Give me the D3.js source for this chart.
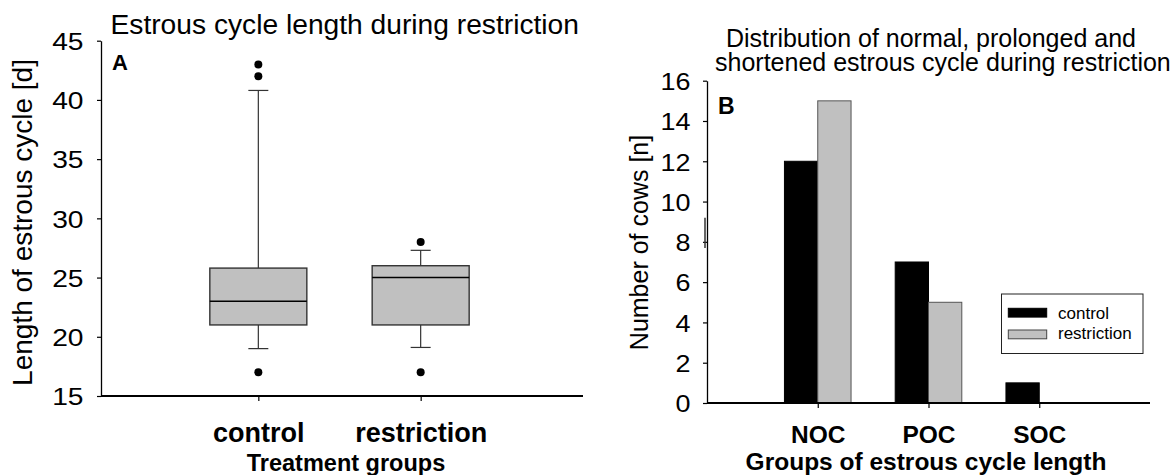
<!DOCTYPE html>
<html>
<head>
<meta charset="utf-8">
<script src="https://cdn.jsdelivr.net/npm/d3@7"></script>
<style>
  html, body { margin: 0; padding: 0; background: #fff; }
  svg { display: block; }
  text { font-family: "Liberation Sans", Arial, sans-serif; fill: #000; }
</style>
</head>
<body>
<svg id="fig" width="1176" height="475"></svg>
<script>
// ---- Panel A: estrous cycle length by treatment group (box plot) ----
const groupsA = ["control", "restriction"];
const whiskerLowA = [19, 19.1];
const q1A = [21, 21];
const medianA = [23, 25];
const q3A = [25.8, 26];
const whiskerHighA = [40.8, 27.3];
const outliersA = [[43, 42, 17], [28, 17]];
const yTicksA = [15, 20, 25, 30, 35, 40, 45];

// ---- Panel B: number of cows per cycle-length group ----
const groupsB = ["NOC", "POC", "SOC"];
const seriesB = ["control", "restriction"];
const controlB = [12, 7, 1];
const restrictionB = [15, 5, 0];
const yTicksB = [0, 2, 4, 6, 8, 10, 12, 14, 16];

const GRAY = "#c0c0c0";
const svg = d3.select("#fig");

// widen glyphs horizontally by factor k
function stretch(sel, k) {
  sel.each(function () {
    const w = this.getComputedTextLength();
    this.setAttribute("textLength", w * k);
    this.setAttribute("lengthAdjust", "spacingAndGlyphs");
  });
}

/* ================= Panel A ================= */
const A = { left: 101, right: 583, top: 40.7, bottom: 396 };
const yA = d3.scaleLinear().domain([15, 45]).range([A.bottom, A.top]);
const xA = d3.scalePoint().domain(groupsA).range([96, 583]).padding(1);
const boxW = 97;
const capW = 20;

const gA = svg.append("g");

// y axis
const yAxisA = gA.append("g")
  .attr("transform", `translate(${A.left},0)`)
  .call(d3.axisLeft(yA).tickValues(yTicksA).tickSize(4).tickSizeOuter(0).tickPadding(13.5));
yAxisA.select(".domain").attr("stroke", "#000").attr("stroke-width", 1.3);
yAxisA.selectAll(".tick line").attr("stroke", "#000").attr("stroke-width", 1.2);
yAxisA.selectAll(".tick text")
  .attr("font-size", 24.5).attr("dy", "0.36em")
  .style("font-family", "'Liberation Sans', Arial, sans-serif")
  .call(stretch, 1.15);

// x axis
gA.append("line")
  .attr("x1", A.left).attr("x2", A.right)
  .attr("y1", A.bottom).attr("y2", A.bottom)
  .attr("stroke", "#000").attr("stroke-width", 2);
const xAxisA = gA.append("g")
  .attr("transform", `translate(0,${A.bottom})`)
  .call(d3.axisBottom(xA).tickSize(5).tickSizeOuter(0).tickPadding(24));
xAxisA.select(".domain").remove();
xAxisA.selectAll(".tick line").attr("stroke", "#000").attr("stroke-width", 1.2);
xAxisA.selectAll(".tick text")
  .attr("font-size", 27).attr("font-weight", "bold").attr("dy", 0)
  .attr("y", 441.7 - A.bottom)
  .style("font-family", "'Liberation Sans', Arial, sans-serif");

// whiskers
const boxes = gA.selectAll("g.box").data(groupsA).join("g").attr("class", "box");
boxes.append("line")
  .attr("x1", d => xA(d)).attr("x2", d => xA(d))
  .attr("y1", (d, i) => yA(whiskerHighA[i])).attr("y2", (d, i) => yA(q3A[i]))
  .attr("stroke", "#333").attr("stroke-width", 1.2);
boxes.append("line")
  .attr("x1", d => xA(d)).attr("x2", d => xA(d))
  .attr("y1", (d, i) => yA(q1A[i])).attr("y2", (d, i) => yA(whiskerLowA[i]))
  .attr("stroke", "#333").attr("stroke-width", 1.2);
boxes.append("line")
  .attr("x1", d => xA(d) - capW / 2).attr("x2", d => xA(d) + capW / 2)
  .attr("y1", (d, i) => yA(whiskerHighA[i])).attr("y2", (d, i) => yA(whiskerHighA[i]))
  .attr("stroke", "#333").attr("stroke-width", 1.2);
boxes.append("line")
  .attr("x1", d => xA(d) - capW / 2).attr("x2", d => xA(d) + capW / 2)
  .attr("y1", (d, i) => yA(whiskerLowA[i])).attr("y2", (d, i) => yA(whiskerLowA[i]))
  .attr("stroke", "#333").attr("stroke-width", 1.2);
// box
boxes.append("rect")
  .attr("x", d => xA(d) - boxW / 2).attr("width", boxW)
  .attr("y", (d, i) => yA(q3A[i]))
  .attr("height", (d, i) => yA(q1A[i]) - yA(q3A[i]))
  .attr("fill", GRAY).attr("stroke", "#333").attr("stroke-width", 1.4);
// median
boxes.append("line")
  .attr("x1", d => xA(d) - boxW / 2).attr("x2", d => xA(d) + boxW / 2)
  .attr("y1", (d, i) => yA(medianA[i])).attr("y2", (d, i) => yA(medianA[i]))
  .attr("stroke", "#000").attr("stroke-width", 1.4);
// outliers
boxes.each(function (d, i) {
  d3.select(this).selectAll("circle").data(outliersA[i]).join("circle")
    .attr("cx", xA(d)).attr("cy", v => yA(v)).attr("r", 4).attr("fill", "#000");
});

// titles
gA.append("text").attr("x", 110.5).attr("y", 34).attr("font-size", 28.2)
  .text("Estrous cycle length during restriction");
gA.append("text").attr("x", 112).attr("y", 70).attr("font-size", 22).attr("font-weight", "bold").text("A");
gA.append("text")
  .attr("transform", `translate(32.3,222.5) rotate(-90)`)
  .attr("text-anchor", "middle").attr("font-size", 28)
  .text("Length of estrous cycle [d]");
gA.append("text").attr("x", 346).attr("y", 470.5).attr("text-anchor", "middle")
  .attr("font-size", 23.5).attr("font-weight", "bold").text("Treatment groups");

/* ================= Panel B ================= */
const B = { left: 707, right: 1150, top: 80.7, bottom: 403 };
const yB = d3.scaleLinear().domain([0, 16]).range([B.bottom, B.top]);
const xB = d3.scalePoint().domain(groupsB).range([B.left, B.right]).padding(1);
const barW = 33.3;
const gB = svg.append("g");

// bars
const barData = [];
groupsB.forEach((g, i) => {
  barData.push({ g, s: "control", v: controlB[i] });
  barData.push({ g, s: "restriction", v: restrictionB[i] });
});
gB.selectAll("rect.bar").data(barData.filter(d => d.v > 0)).join("rect")
  .attr("class", "bar")
  .attr("x", d => d.s === "control" ? xB(d.g) - barW : xB(d.g))
  .attr("width", barW)
  .attr("y", d => yB(d.v))
  .attr("height", d => yB(0) - yB(d.v))
  .attr("fill", d => d.s === "control" ? "#000" : GRAY)
  .attr("stroke", d => d.s === "control" ? "#000" : "#555")
  .attr("stroke-width", 1);

// y axis
const yAxisB = gB.append("g")
  .attr("transform", `translate(${B.left},0)`)
  .call(d3.axisLeft(yB).tickValues(yTicksB).tickSize(4).tickSizeOuter(0).tickPadding(12.5));
yAxisB.select(".domain").attr("stroke", "#000").attr("stroke-width", 1.3);
yAxisB.selectAll(".tick line").attr("stroke", "#000").attr("stroke-width", 1.2);
yAxisB.selectAll(".tick text")
  .attr("font-size", 24.5).attr("dy", "0.36em")
  .style("font-family", "'Liberation Sans', Arial, sans-serif")
  .call(stretch, 1.1);
// short stray stroke beside the axis
gB.append("line").attr("x1", B.left - 2).attr("x2", B.left - 2)
  .attr("y1", yB(9.2)).attr("y2", yB(7.7)).attr("stroke", "#333").attr("stroke-width", 1.5);

// x axis
gB.append("line")
  .attr("x1", B.left).attr("x2", B.right)
  .attr("y1", B.bottom).attr("y2", B.bottom)
  .attr("stroke", "#000").attr("stroke-width", 2);
const xAxisB = gB.append("g")
  .attr("transform", `translate(0,${B.bottom})`)
  .call(d3.axisBottom(xB).tickSize(5).tickSizeOuter(0));
xAxisB.select(".domain").remove();
xAxisB.selectAll(".tick line").attr("stroke", "#000").attr("stroke-width", 1.2);
xAxisB.selectAll(".tick text")
  .attr("font-size", 24.5).attr("font-weight", "bold").attr("dy", 0)
  .attr("y", 443.3 - B.bottom)
  .style("font-family", "'Liberation Sans', Arial, sans-serif");

// titles
gB.append("text").attr("x", 726).attr("y", 46.5).attr("font-size", 25)
  .text("Distribution of normal, prolonged and");
gB.append("text").attr("x", 715).attr("y", 70.5).attr("font-size", 25)
  .text("shortened estrous cycle during restriction");
gB.append("text").attr("x", 718).attr("y", 114.3).attr("font-size", 23).attr("font-weight", "bold").text("B");
gB.append("text")
  .attr("transform", `translate(648,242.5) rotate(-90)`)
  .attr("text-anchor", "middle").attr("font-size", 25)
  .text("Number of cows [n]");
gB.append("text").attr("x", 926).attr("y", 470).attr("text-anchor", "middle")
  .attr("font-size", 24.5).attr("font-weight", "bold").text("Groups of estrous cycle length");

// legend
const leg = gB.append("g");
leg.append("rect").attr("x", 1001.5).attr("y", 294).attr("width", 141.5).attr("height", 59.5)
  .attr("fill", "#fff").attr("stroke", "#222").attr("stroke-width", 1);
seriesB.forEach((s, i) => {
  const yy = [308.3, 330][i];
  leg.append("rect").attr("x", 1008.3).attr("y", yy).attr("width", 38.4).attr("height", 8.8)
    .attr("fill", s === "control" ? "#000" : GRAY)
    .attr("stroke", s === "control" ? "#000" : "#444").attr("stroke-width", 1);
  leg.append("text").attr("x", 1058).attr("y", [318.5, 339.3][i]).attr("font-size", 17).text(s);
});
</script>
</body>
</html>
